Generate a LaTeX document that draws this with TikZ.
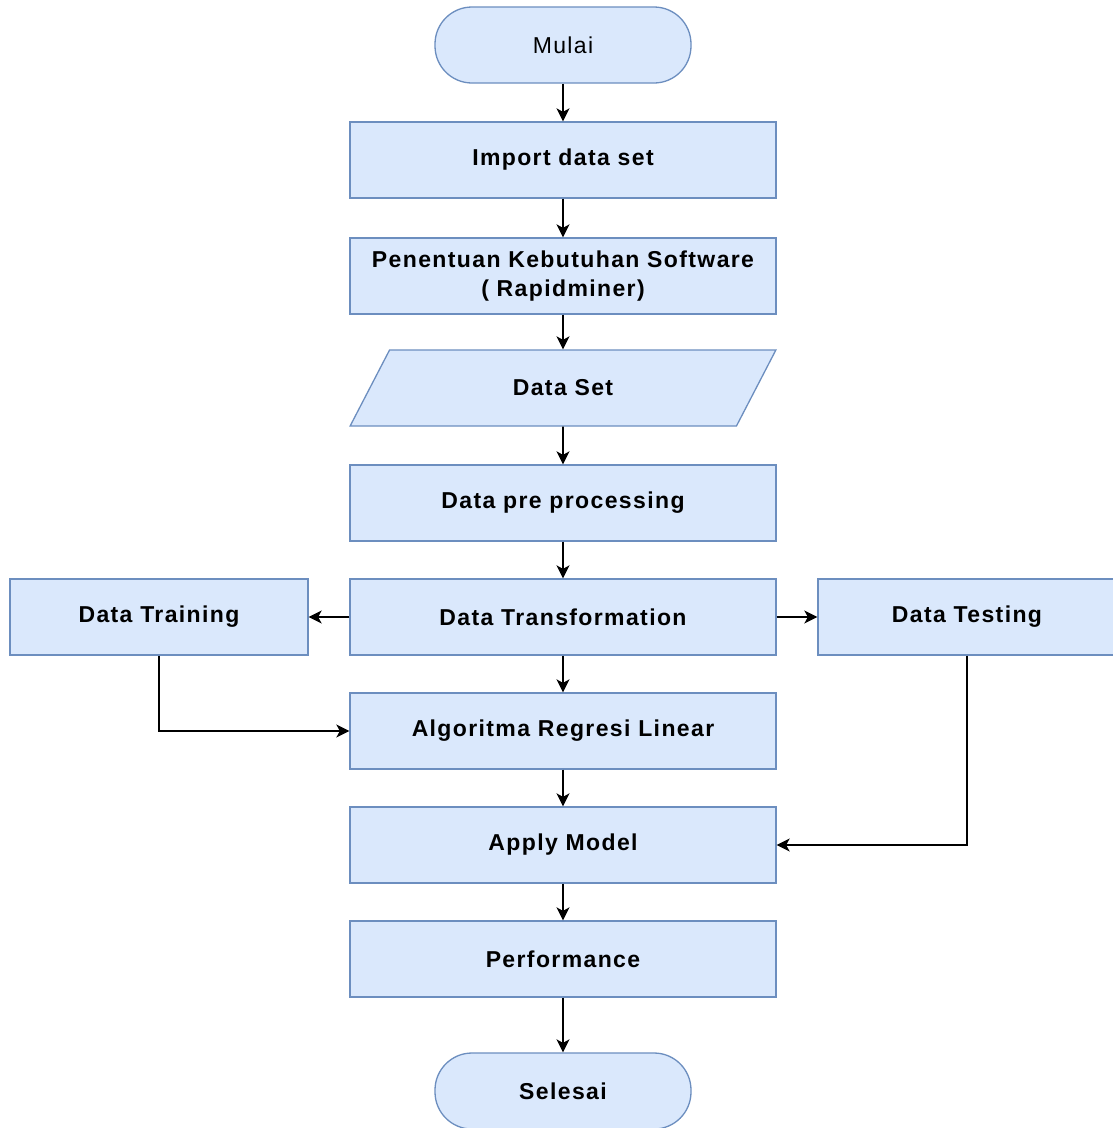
\documentclass[tikz,border=0pt]{standalone}
\usepackage{fontspec}
\setmainfont{Liberation Sans}
\usepackage{tikz}
\usetikzlibrary{shapes.geometric,arrows.meta,positioning}
\definecolor{boxfill}{HTML}{DAE8FC}
\definecolor{boxline}{HTML}{6C8EBF}

\begin{document}
\begin{tikzpicture}[x=1pt, y=-1pt,
        box/.style={draw=boxline, fill=boxfill, line width=1.3pt, minimum width=426pt, minimum height=76pt,
            inner sep=0pt, align=center, font=\fontsize{23}{29}\selectfont\addfontfeature{LetterSpace=6}\bfseries},
        side/.style={box, minimum width=298pt},
        term/.style={box, rounded corners=37pt, minimum width=256pt},
        io/.style={box, trapezium, trapezium left angle=55, trapezium right angle=125, trapezium stretches=true},
        arr/.style={-{Stealth[length=13pt,width=13pt,inset=3.5pt]}, line width=1.6pt}]
        \useasboundingbox (0,0) rectangle (1113,1128);
        \node[term, font=\fontsize{23}{29}\selectfont\addfontfeature{LetterSpace=6}] (mulai) at (563,45) {Mulai};
        \node[box] (imp) at (563,160) {Import data set};
        \node[box] (keb) at (563,276) {Penentuan Kebutuhan Software\\( Rapidminer)};
        \node[io] (ds) at (563,388) {Data Set};
        \node[box] (pre) at (563,503) {Data pre processing};
        \node[box] (trans) at (563,617) {Data Transformation};
        \node[side] (train) at (159,617) {Data Training};
        \node[side] (test) at (967,617) {Data Testing};
        \node[box] (algo) at (563,731) {Algoritma Regresi Linear};
        \node[box] (apply) at (563,845) {Apply Model};
        \node[box] (perf) at (563,959) {Performance};
        \node[term] (selesai) at (563,1091) {Selesai};
        \foreach \a/\b in {mulai/imp, imp/keb, keb/ds, ds/pre, pre/trans, trans/algo, algo/apply, apply/perf, perf/selesai}
            \draw[arr] (\a) -- (\b);
        \draw[arr] (trans) -- (train);
        \draw[arr] (trans) -- (test);
        \draw[arr] (train.south) |- (algo.west);
        \draw[arr] (test.south) |- (apply.east);
    \end{tikzpicture}
\end{document}
